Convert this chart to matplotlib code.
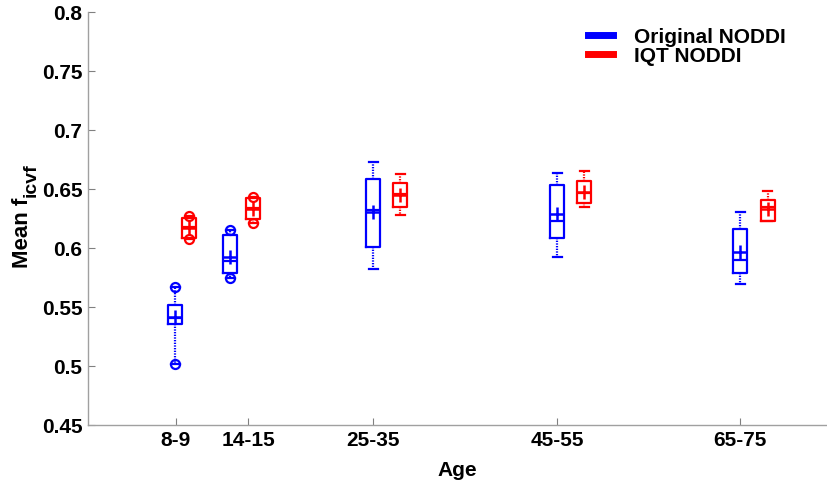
import matplotlib
matplotlib.use("Agg")
import matplotlib.pyplot as plt
from matplotlib.lines import Line2D

plt.rcParams['font.family'] = ['Liberation Sans', 'DejaVu Sans']
plt.rcParams['font.weight'] = 'bold'

age_groups = ['8-9', '14-15', '25-35', '45-55', '65-75']
series_names = ['Original NODDI', 'IQT NODDI']

# Original NODDI box statistics
orig_whislo = [0.502, 0.5746, 0.5827, 0.5929, 0.5695]
orig_q1     = [0.5356, 0.5793, 0.6014, 0.6085, 0.5788]
orig_med    = [0.5407, 0.5892, 0.6325, 0.6234, 0.5901]
orig_mean   = [0.542, 0.5929, 0.6305, 0.6288, 0.5966]
orig_q3     = [0.552, 0.6113, 0.6585, 0.6536, 0.6161]
orig_whishi = [0.5675, 0.6155, 0.6729, 0.6636, 0.6305]

# IQT NODDI box statistics
iqt_whislo = [0.6076, 0.6212, 0.6282, 0.6347, 0.6234]
iqt_q1     = [0.6085, 0.6246, 0.6353, 0.6386, 0.6234]
iqt_med    = [0.6183, 0.6345, 0.6458, 0.6466, 0.6353]
iqt_mean   = [0.6175, 0.6335, 0.6452, 0.648, 0.6333]
iqt_q3     = [0.6254, 0.6424, 0.6556, 0.6573, 0.641]
iqt_whishi = [0.6274, 0.6437, 0.663, 0.6658, 0.6488]

# groups whose whisker ends are marked with circles
circle_groups = [True, True, False, False, False]

# layout (x positions on the axis)
tick_pos = [87.7, 160.3, 284.7, 469, 652.3]
orig_pos = [87, 142, 285, 469, 652]
iqt_pos = [101, 165.3, 312, 496, 679.7]

FS = 15

fig = plt.figure(figsize=(8.27, 4.87), dpi=100)
ax = fig.add_axes([88/827, 1-425.3/487, (826-88)/827, (425.3-12.3)/487])


def make_stats(lo, q1, med, mean, q3, hi, circ):
    stats = []
    for i in range(len(lo)):
        stats.append(dict(whislo=lo[i], q1=q1[i], med=med[i], mean=mean[i],
                          q3=q3[i], whishi=hi[i],
                          fliers=[lo[i], hi[i]] if circ[i] else []))
    return stats


def draw(stats, pos, color):
    lw = 1.6
    ax.bxp(stats, positions=pos, widths=14, capwidths=9, showmeans=True,
           manage_ticks=False,
           boxprops=dict(color=color, linewidth=lw),
           medianprops=dict(color=color, linewidth=lw),
           whiskerprops=dict(color=color, linewidth=lw, linestyle=(0, (0.6, 0.6))),
           capprops=dict(color=color, linewidth=lw),
           meanprops=dict(marker='+', markeredgecolor=color, markersize=10,
                          markeredgewidth=1.8),
           flierprops=dict(marker='o', markerfacecolor='none',
                           markeredgecolor=color, markersize=6.5,
                           markeredgewidth=1.6))


draw(make_stats(orig_whislo, orig_q1, orig_med, orig_mean, orig_q3, orig_whishi,
                circle_groups), orig_pos, '#0000ff')
draw(make_stats(iqt_whislo, iqt_q1, iqt_med, iqt_mean, iqt_q3, iqt_whishi,
                circle_groups), iqt_pos, '#ff0000')

ax.set_xlim(0, 738)
ax.set_ylim(0.45, 0.8)
ax.set_yticks([0.45, 0.5, 0.55, 0.6, 0.65, 0.7, 0.75, 0.8])
ax.set_yticklabels(['0.45', '0.5', '0.55', '0.6', '0.65', '0.7', '0.75', '0.8'])
ax.set_xticks(tick_pos)
ax.set_xticklabels(age_groups)

for s in ['top', 'right']:
    ax.spines[s].set_visible(False)
for s in ['left', 'bottom']:
    ax.spines[s].set_color('#a0a0a0')
    ax.spines[s].set_linewidth(1.0)
ax.tick_params(direction='in', length=5, width=0.8, color='#808080',
               labelsize=FS, pad=4)
for lab in ax.get_xticklabels() + ax.get_yticklabels():
    lab.set_fontweight('bold')

ax.set_xlabel('Age', fontsize=FS, fontweight='bold', labelpad=8)
ylab = ax.set_ylabel('Mean f', fontsize=16, fontweight='bold', labelpad=6)
ylab.set_y(0.465)
# subscript "icvf" appended to the rotated y label
ax.annotate('icvf', xy=(1.0, 1.0), xycoords=ylab, xytext=(4.5, 0.5),
            textcoords='offset points', rotation=90, ha='right', va='bottom',
            fontsize=14, fontweight='bold')

handles = [Line2D([], [], color='#0000ff', linewidth=5),
           Line2D([], [], color='#ff0000', linewidth=5)]
leg = ax.legend(handles, series_names, loc='upper right', frameon=False,
                fontsize=FS, handlelength=1.2, handletextpad=1.0,
                labelspacing=0.0, borderaxespad=0.0, borderpad=0.0,
                bbox_to_anchor=(0.945, 0.963))
for t in leg.get_texts():
    t.set_fontweight('bold')

fig.savefig('out.png', dpi=100)
